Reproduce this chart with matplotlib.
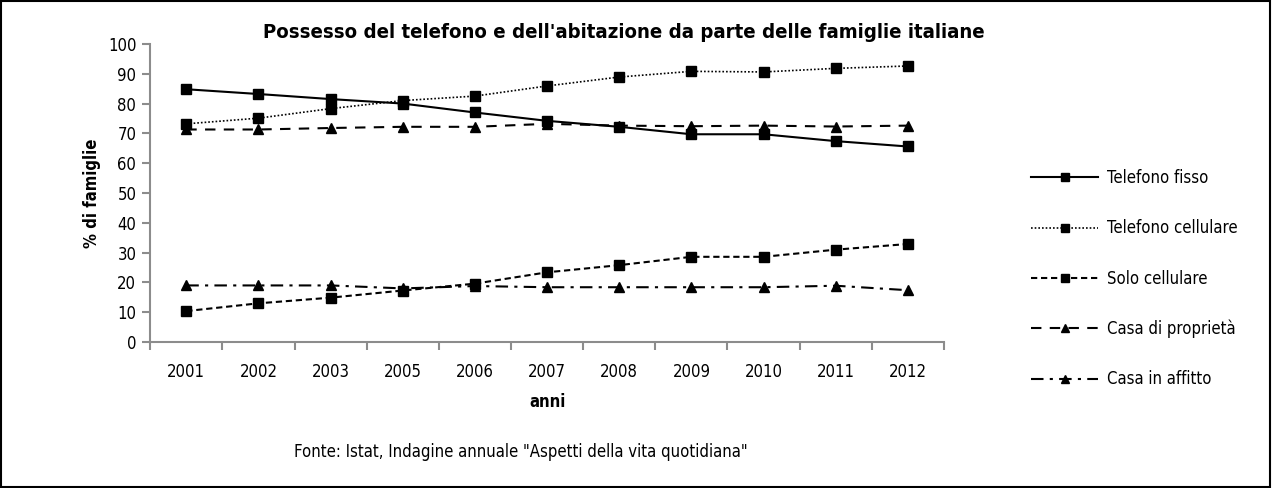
import matplotlib
matplotlib.use("Agg")
import matplotlib.pyplot as plt
from matplotlib.patches import Rectangle

plt.rcParams['font.family'] = ['DejaVu Sans']
plt.rcParams['font.stretch'] = 'condensed'

anni = ["2001", "2002", "2003", "2005", "2006", "2007", "2008", "2009", "2010", "2011", "2012"]
telefono_fisso = [84.8, 83.2, 81.5, 80.0, 77.0, 74.2, 72.2, 69.7, 69.7, 67.4, 65.6]
telefono_cellulare = [73.2, 75.1, 78.3, 81.0, 82.5, 85.9, 88.9, 90.8, 90.6, 91.8, 92.6]
solo_cellulare = [10.4, 13.0, 14.9, 17.3, 19.6, 23.4, 25.8, 28.6, 28.6, 31.0, 32.9]
casa_proprieta = [71.3, 71.3, 71.8, 72.2, 72.2, 73.2, 72.6, 72.4, 72.6, 72.3, 72.6]
casa_affitto = [19.0, 19.0, 19.0, 18.0, 18.8, 18.4, 18.4, 18.4, 18.4, 18.9, 17.4]

fig = plt.figure(figsize=(12.73, 4.88), dpi=100)
ax = fig.add_axes([0.118, 0.299, 0.6235, 0.611])

x = range(len(anni))
ax.plot(x, telefono_fisso, color="black", lw=1.5, ls="-", marker="s", ms=7.5, label="Telefono fisso")
ax.plot(x, telefono_cellulare, color="black", lw=1.2, ls=(0, (1, 1.2)), marker="s", ms=7.5, label="Telefono cellulare")
ax.plot(x, solo_cellulare, color="black", lw=1.5, ls=(0, (3, 1.8)), marker="s", ms=7.5, label="Solo cellulare")
ax.plot(x, casa_proprieta, color="black", lw=1.5, ls=(0, (5, 4)), marker="^", ms=7.5, label="Casa di proprietà")
ax.plot(x, casa_affitto, color="black", lw=1.5, ls=(0, (6, 3, 1.5, 3)), marker="^", ms=7.5, label="Casa in affitto")

ax.set_xlim(-0.5, len(anni) - 0.5)
ax.set_ylim(0, 100)
ax.set_yticks(range(0, 101, 10))
ax.set_xticks(x)
ax.set_xticklabels(anni)
ax.set_xticks([i - 0.5 for i in range(len(anni) + 1)], minor=True)
ax.tick_params(axis="x", which="major", length=0, pad=15, labelsize=12)
ax.tick_params(axis="x", which="minor", length=6, color="#8c8c8c", width=1.5)
ax.tick_params(axis="y", length=6, color="#8c8c8c", width=1.5, labelsize=12, pad=4)

for s in ["top", "right"]:
    ax.spines[s].set_visible(False)
for s in ["left", "bottom"]:
    ax.spines[s].set_color("#8c8c8c")
    ax.spines[s].set_linewidth(1.5)

ax.set_xlabel("anni", fontsize=12, fontweight="bold", labelpad=9)
ax.set_ylabel("% di famiglie", fontsize=12, fontweight="bold", labelpad=5)

fig.text(0.490, 0.933, "Possesso del telefono e dell'abitazione da parte delle famiglie italiane",
         ha="center", va="center", fontsize=14.6, fontweight="bold")
fig.text(0.409, 0.073, 'Fonte: Istat, Indagine annuale "Aspetti della vita quotidiana"',
         ha="center", va="center", fontsize=12)

fig.legend(loc="upper left", bbox_to_anchor=(0.7985, 0.684), frameon=False,
           fontsize=12, handlelength=4.0, labelspacing=1.93, handletextpad=0.55,
           markerscale=0.8)

fig.patches.append(Rectangle((0.001, 0.002), 0.997, 0.995, transform=fig.transFigure,
                             fill=False, edgecolor="black", lw=1.5))

fig.savefig("out.png", dpi=100)
